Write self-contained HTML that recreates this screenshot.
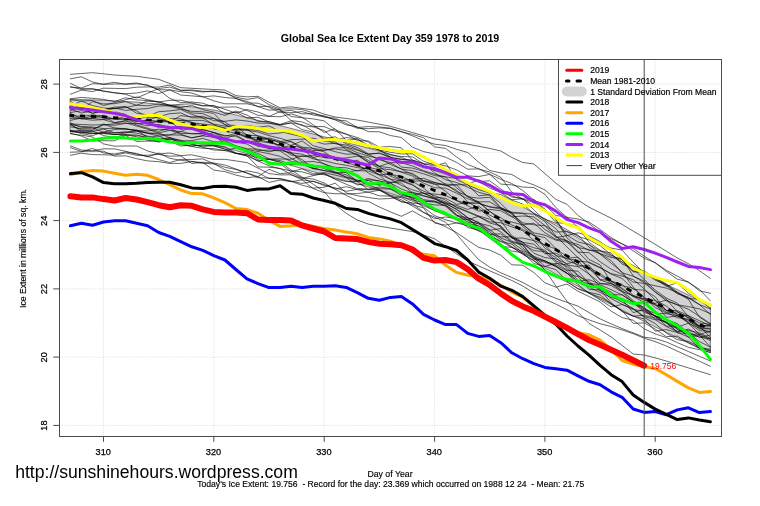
<!DOCTYPE html><html><head><meta charset="utf-8"><title>Global Sea Ice Extent</title><style>html,body{margin:0;padding:0;background:#fff}svg{display:block}</style></head><body><svg width="760" height="506" viewBox="0 0 760 506" font-family="Liberation Sans, Arial, sans-serif">
<rect width="760" height="506" fill="#fff"/>
<path d="M103.5 59.5 V436.5 M213.8 59.5 V436.5 M324.2 59.5 V436.5 M434.6 59.5 V436.5 M544.9 59.5 V436.5 M655.2 59.5 V436.5 M59.5 425.4 H721.5 M59.5 357.1 H721.5 M59.5 288.9 H721.5 M59.5 220.6 H721.5 M59.5 152.4 H721.5 M59.5 84.1 H721.5" stroke="#d4d4d4" stroke-width="0.85" stroke-dasharray="1 1.5" fill="none"/>
<g fill="none" stroke-linejoin="round" stroke-linecap="round">
<path d="M70.4 99.1 L81.4 99.5 L92.5 99.9 L103.5 100.3 L114.5 100.9 L125.6 101.5 L136.6 102.1 L147.6 103.1 L158.7 104.1 L169.7 105.0 L180.7 106.0 L191.8 106.9 L202.8 108.4 L213.8 110.0 L224.9 112.5 L235.9 115.0 L247.0 117.7 L258.0 120.3 L269.0 122.9 L280.1 125.6 L291.1 128.4 L302.1 131.2 L313.2 134.0 L324.2 136.8 L335.2 139.6 L346.3 142.5 L357.3 145.3 L368.3 148.1 L379.4 151.2 L390.4 154.2 L401.4 157.3 L412.5 161.7 L423.5 166.1 L434.6 170.5 L445.6 174.4 L456.6 178.4 L467.7 182.5 L478.7 187.2 L489.7 191.9 L500.8 196.6 L511.8 201.4 L522.8 206.9 L533.9 213.0 L544.9 219.0 L555.9 225.3 L567.0 231.6 L578.0 237.9 L589.0 244.4 L600.1 250.9 L611.1 256.5 L622.1 262.1 L633.2 267.8 L644.2 273.4 L655.2 278.9 L666.3 284.3 L677.3 289.7 L688.4 295.1 L699.4 300.4 L710.4 305.0 L710.4 353.0 L699.4 348.4 L688.4 343.1 L677.3 337.7 L666.3 332.3 L655.2 326.9 L644.2 321.4 L633.2 315.8 L622.1 310.1 L611.1 304.5 L600.1 298.9 L589.0 292.6 L578.0 286.3 L567.0 280.2 L555.9 274.1 L544.9 268.0 L533.9 261.0 L522.8 253.9 L511.8 247.4 L500.8 241.6 L489.7 235.9 L478.7 230.4 L467.7 224.9 L456.6 220.0 L445.6 215.2 L434.6 210.5 L423.5 205.9 L412.5 201.3 L401.4 196.7 L390.4 193.4 L379.4 190.2 L368.3 186.9 L357.3 183.9 L346.3 180.8 L335.2 177.8 L324.2 174.8 L313.2 171.7 L302.1 168.6 L291.1 165.5 L280.1 162.4 L269.0 159.4 L258.0 156.5 L247.0 153.6 L235.9 150.6 L224.9 147.8 L213.8 145.0 L202.8 143.3 L191.8 141.5 L180.7 140.4 L169.7 139.4 L158.7 138.2 L147.6 137.1 L136.6 135.9 L125.6 135.2 L114.5 134.4 L103.5 133.7 L92.5 133.1 L81.4 132.5 L70.4 131.9Z" fill="#d3d3d3" stroke="#333" stroke-width="0.6"/>
<g stroke="#000" stroke-width="0.6">
<path d="M70.4 74.3 L81.4 73.5 L92.5 72.7 L103.5 73.8 L114.5 75.0 L125.6 75.7 L136.6 76.3 L147.6 77.8 L158.7 79.3 L169.7 83.5 L180.7 87.7 L191.8 88.3 L202.8 88.9 L213.8 89.5 L224.9 90.0 L235.9 95.7 L247.0 96.9 L258.0 96.3 L269.0 102.1 L280.1 107.9 L291.1 106.8 L302.1 108.4 L313.2 110.0 L324.2 114.2 L335.2 117.0 L346.3 118.5 L357.3 120.0 L368.3 122.1 L379.4 124.2 L390.4 126.3 L401.4 129.4 L412.5 132.6 L423.5 135.8 L434.6 138.9 L445.6 140.7 L456.6 142.4 L467.7 144.2 L478.7 146.3 L489.7 148.4 L500.8 151.0 L511.8 157.5 L522.8 162.5 L533.9 164.0 L544.9 173.6 L555.9 183.1 L567.0 192.0 L578.0 200.1 L589.0 207.2 L600.1 212.7 L611.1 218.2 L622.1 224.4 L633.2 231.1 L644.2 237.7 L655.2 244.3 L666.3 251.2 L677.3 258.0 L688.4 263.7 L699.4 270.6 L710.4 278.5"/>
<path d="M70.4 131.0 L81.4 132.7 L92.5 133.4 L103.5 133.4 L114.5 134.4 L125.6 134.7 L136.6 136.8 L147.6 140.4 L158.7 140.8 L169.7 141.7 L180.7 144.4 L191.8 146.6 L202.8 148.3 L213.8 148.6 L224.9 150.6 L235.9 153.4 L247.0 154.8 L258.0 158.0 L269.0 159.3 L280.1 162.0 L291.1 170.0 L302.1 177.1 L313.2 184.2 L324.2 191.6 L335.2 204.5 L346.3 213.4 L357.3 220.0 L368.3 224.1 L379.4 226.2 L390.4 228.0 L401.4 229.8 L412.5 231.6 L423.5 235.0 L434.6 238.8 L445.6 246.3 L456.6 253.9 L467.7 261.0 L478.7 265.9 L489.7 270.8 L500.8 275.6 L511.8 280.5 L522.8 286.0 L533.9 293.1 L544.9 299.2 L555.9 304.1 L567.0 309.8 L578.0 315.8 L589.0 319.9 L600.1 323.7 L611.1 326.5 L622.1 329.9 L633.2 333.7 L644.2 338.2 L655.2 341.6 L666.3 346.0 L677.3 351.1 L688.4 356.2 L699.4 361.2 L710.4 366.3"/>
<path d="M70.4 124.6 L81.4 126.4 L92.5 127.0 L103.5 128.6 L114.5 128.2 L125.6 129.1 L136.6 130.5 L147.6 133.4 L158.7 136.1 L169.7 134.9 L180.7 135.1 L191.8 137.6 L202.8 135.9 L213.8 137.2 L224.9 140.7 L235.9 145.8 L247.0 149.5 L258.0 151.5 L269.0 153.7 L280.1 156.3 L291.1 161.3 L302.1 163.0 L313.2 165.2 L324.2 168.5 L335.2 172.7 L346.3 176.9 L357.3 180.0 L368.3 185.0 L379.4 189.2 L390.4 195.8 L401.4 199.8 L412.5 206.1 L423.5 212.6 L434.6 217.0 L445.6 222.2 L456.6 234.2 L467.7 247.3 L478.7 259.7 L489.7 267.1 L500.8 272.8 L511.8 277.5 L522.8 282.5 L533.9 288.6 L544.9 293.9 L555.9 298.3 L567.0 302.3 L578.0 306.2 L589.0 312.5 L600.1 318.9 L611.1 323.8 L622.1 328.6 L633.2 332.8 L644.2 337.2 L655.2 338.6 L666.3 342.0 L677.3 346.8 L688.4 351.5 L699.4 356.3 L710.4 361.0"/>
<path d="M70.4 123.9 L81.4 124.5 L92.5 125.0 L103.5 124.7 L114.5 125.3 L125.6 123.4 L136.6 123.5 L147.6 125.8 L158.7 124.3 L169.7 127.6 L180.7 126.6 L191.8 129.6 L202.8 129.7 L213.8 132.4 L224.9 135.5 L235.9 136.3 L247.0 141.5 L258.0 146.3 L269.0 148.4 L280.1 150.4 L291.1 152.8 L302.1 154.2 L313.2 158.9 L324.2 160.7 L335.2 163.5 L346.3 165.3 L357.3 167.6 L368.3 169.1 L379.4 174.5 L390.4 179.2 L401.4 185.4 L412.5 189.8 L423.5 193.3 L434.6 197.7 L445.6 201.9 L456.6 206.9 L467.7 211.4 L478.7 216.0 L489.7 219.2 L500.8 226.5 L511.8 237.4 L522.8 245.0 L533.9 257.5 L544.9 270.0 L555.9 286.0 L567.0 301.3 L578.0 312.3 L589.0 323.4 L600.1 330.0 L611.1 336.9 L622.1 345.5 L633.2 354.0 L644.2 355.0 L655.2 357.9 L666.3 361.0 L677.3 364.5 L688.4 367.9 L699.4 371.3 L710.4 374.7"/>
<path d="M70.4 78.8 L81.4 76.8 L92.5 82.0 L103.5 84.4 L114.5 84.0 L125.6 83.9 L136.6 83.0 L147.6 85.5 L158.7 89.8 L169.7 89.8 L180.7 91.7 L191.8 93.1 L202.8 96.8 L213.8 95.9 L224.9 97.5 L235.9 98.4 L247.0 102.9 L258.0 103.2 L269.0 107.2 L280.1 112.6 L291.1 112.7 L302.1 111.6 L313.2 115.0 L324.2 116.8 L335.2 119.7 L346.3 120.9 L357.3 127.5 L368.3 126.6 L379.4 127.0 L390.4 128.1 L401.4 131.9 L412.5 134.4 L423.5 137.7 L434.6 146.9 L445.6 148.4 L456.6 157.0 L467.7 164.5 L478.7 168.8 L489.7 174.3 L500.8 184.1 L511.8 184.9 L522.8 187.1 L533.9 187.5 L544.9 194.3 L555.9 207.6 L567.0 217.4 L578.0 219.0 L589.0 222.0 L600.1 229.5 L611.1 237.6 L622.1 243.9 L633.2 250.8 L644.2 258.3 L655.2 262.7 L666.3 270.3 L677.3 276.1 L688.4 282.4 L699.4 289.3 L710.4 300.9"/>
<path d="M70.4 83.3 L81.4 88.6 L92.5 89.2 L103.5 90.9 L114.5 92.7 L125.6 94.3 L136.6 98.0 L147.6 93.3 L158.7 88.5 L169.7 87.1 L180.7 90.3 L191.8 90.7 L202.8 92.0 L213.8 91.0 L224.9 92.9 L235.9 97.2 L247.0 99.4 L258.0 97.6 L269.0 104.7 L280.1 109.1 L291.1 108.8 L302.1 109.5 L313.2 112.9 L324.2 116.9 L335.2 118.2 L346.3 123.6 L357.3 128.3 L368.3 128.7 L379.4 127.9 L390.4 128.6 L401.4 131.4 L412.5 135.9 L423.5 140.5 L434.6 144.2 L445.6 145.5 L456.6 149.3 L467.7 152.5 L478.7 162.3 L489.7 170.5 L500.8 172.9 L511.8 174.5 L522.8 181.0 L533.9 184.9 L544.9 189.9 L555.9 199.4 L567.0 204.3 L578.0 215.4 L589.0 223.5 L600.1 232.3 L611.1 238.8 L622.1 243.9 L633.2 248.5 L644.2 256.2 L655.2 262.9 L666.3 271.4 L677.3 279.2 L688.4 281.9 L699.4 290.8 L710.4 293.3"/>
<path d="M70.4 87.1 L81.4 88.0 L92.5 83.7 L103.5 84.1 L114.5 82.3 L125.6 84.4 L136.6 83.8 L147.6 85.0 L158.7 89.8 L169.7 98.3 L180.7 102.7 L191.8 102.0 L202.8 103.2 L213.8 107.2 L224.9 107.2 L235.9 106.9 L247.0 110.5 L258.0 115.3 L269.0 116.4 L280.1 111.5 L291.1 110.3 L302.1 113.9 L313.2 113.6 L324.2 115.9 L335.2 119.9 L346.3 124.9 L357.3 126.8 L368.3 131.6 L379.4 131.8 L390.4 135.5 L401.4 137.5 L412.5 147.2 L423.5 151.6 L434.6 154.0 L445.6 157.2 L456.6 162.4 L467.7 169.2 L478.7 168.9 L489.7 172.0 L500.8 177.3 L511.8 192.1 L522.8 199.3 L533.9 202.2 L544.9 209.5 L555.9 222.6 L567.0 223.5 L578.0 226.4 L589.0 236.6 L600.1 242.8 L611.1 248.1 L622.1 250.1 L633.2 262.3 L644.2 273.1 L655.2 278.9 L666.3 286.3 L677.3 282.8 L688.4 293.4 L699.4 299.5 L710.4 308.6"/>
<path d="M70.4 94.2 L81.4 90.1 L92.5 91.6 L103.5 88.2 L114.5 88.4 L125.6 88.6 L136.6 87.2 L147.6 86.9 L158.7 87.1 L169.7 85.1 L180.7 90.3 L191.8 89.9 L202.8 91.3 L213.8 91.5 L224.9 92.2 L235.9 98.5 L247.0 101.4 L258.0 106.7 L269.0 110.1 L280.1 109.7 L291.1 116.5 L302.1 117.8 L313.2 118.9 L324.2 120.9 L335.2 129.8 L346.3 134.0 L357.3 140.6 L368.3 141.0 L379.4 147.2 L390.4 146.5 L401.4 147.8 L412.5 160.3 L423.5 164.0 L434.6 163.9 L445.6 165.9 L456.6 169.9 L467.7 175.9 L478.7 176.6 L489.7 174.4 L500.8 179.3 L511.8 183.5 L522.8 190.5 L533.9 200.1 L544.9 205.1 L555.9 215.5 L567.0 217.0 L578.0 227.5 L589.0 242.3 L600.1 250.3 L611.1 255.3 L622.1 259.9 L633.2 271.9 L644.2 272.4 L655.2 277.2 L666.3 285.5 L677.3 293.8 L688.4 297.2 L699.4 304.6 L710.4 309.0"/>
<path d="M70.4 86.7 L81.4 89.4 L92.5 88.6 L103.5 91.3 L114.5 92.9 L125.6 93.7 L136.6 93.0 L147.6 90.9 L158.7 93.5 L169.7 89.9 L180.7 95.0 L191.8 95.9 L202.8 96.8 L213.8 100.8 L224.9 103.8 L235.9 103.8 L247.0 103.8 L258.0 106.4 L269.0 106.4 L280.1 110.2 L291.1 120.6 L302.1 121.9 L313.2 126.5 L324.2 126.6 L335.2 131.3 L346.3 134.2 L357.3 137.5 L368.3 142.0 L379.4 150.0 L390.4 152.3 L401.4 154.0 L412.5 153.9 L423.5 161.2 L434.6 164.9 L445.6 170.0 L456.6 173.9 L467.7 184.1 L478.7 179.9 L489.7 184.3 L500.8 192.7 L511.8 195.9 L522.8 199.2 L533.9 205.4 L544.9 209.4 L555.9 219.7 L567.0 237.8 L578.0 247.6 L589.0 249.6 L600.1 253.7 L611.1 260.5 L622.1 272.8 L633.2 276.3 L644.2 281.1 L655.2 291.8 L666.3 300.9 L677.3 304.7 L688.4 306.6 L699.4 308.9 L710.4 313.7"/>
<path d="M70.4 98.9 L81.4 97.4 L92.5 98.3 L103.5 99.4 L114.5 101.5 L125.6 97.8 L136.6 99.9 L147.6 100.6 L158.7 102.1 L169.7 105.2 L180.7 107.8 L191.8 112.9 L202.8 113.6 L213.8 118.4 L224.9 124.7 L235.9 130.3 L247.0 135.1 L258.0 135.7 L269.0 138.8 L280.1 143.0 L291.1 141.6 L302.1 147.1 L313.2 148.4 L324.2 150.0 L335.2 149.0 L346.3 150.6 L357.3 155.2 L368.3 162.3 L379.4 168.5 L390.4 169.7 L401.4 171.9 L412.5 173.4 L423.5 180.6 L434.6 183.6 L445.6 191.3 L456.6 200.6 L467.7 203.5 L478.7 203.4 L489.7 206.9 L500.8 209.2 L511.8 213.1 L522.8 226.8 L533.9 235.4 L544.9 237.5 L555.9 248.6 L567.0 260.7 L578.0 264.6 L589.0 269.0 L600.1 275.4 L611.1 282.8 L622.1 290.8 L633.2 300.6 L644.2 308.5 L655.2 316.5 L666.3 322.5 L677.3 327.1 L688.4 323.3 L699.4 328.1 L710.4 333.1"/>
<path d="M70.4 99.8 L81.4 101.1 L92.5 100.5 L103.5 105.5 L114.5 102.6 L125.6 99.8 L136.6 96.9 L147.6 99.7 L158.7 101.9 L169.7 100.4 L180.7 100.2 L191.8 102.9 L202.8 105.7 L213.8 105.6 L224.9 109.3 L235.9 113.1 L247.0 109.6 L258.0 112.0 L269.0 116.4 L280.1 116.8 L291.1 113.9 L302.1 117.2 L313.2 124.8 L324.2 132.4 L335.2 128.8 L346.3 140.3 L357.3 139.0 L368.3 145.0 L379.4 150.3 L390.4 154.9 L401.4 156.5 L412.5 156.9 L423.5 163.8 L434.6 166.0 L445.6 162.8 L456.6 179.6 L467.7 184.6 L478.7 195.8 L489.7 194.7 L500.8 203.4 L511.8 214.5 L522.8 222.8 L533.9 224.8 L544.9 225.7 L555.9 232.0 L567.0 231.6 L578.0 235.0 L589.0 247.2 L600.1 254.1 L611.1 263.1 L622.1 272.1 L633.2 286.9 L644.2 297.9 L655.2 300.6 L666.3 310.3 L677.3 310.7 L688.4 315.5 L699.4 326.1 L710.4 325.3"/>
<path d="M70.4 101.0 L81.4 109.8 L92.5 101.6 L103.5 103.9 L114.5 103.7 L125.6 101.6 L136.6 105.3 L147.6 101.0 L158.7 101.8 L169.7 105.3 L180.7 104.3 L191.8 103.8 L202.8 105.9 L213.8 105.8 L224.9 113.8 L235.9 112.2 L247.0 117.9 L258.0 117.3 L269.0 121.9 L280.1 124.4 L291.1 120.8 L302.1 125.7 L313.2 126.9 L324.2 130.5 L335.2 139.8 L346.3 137.6 L357.3 138.6 L368.3 147.1 L379.4 150.0 L390.4 157.3 L401.4 159.4 L412.5 160.0 L423.5 163.4 L434.6 173.0 L445.6 179.7 L456.6 182.5 L467.7 187.1 L478.7 192.3 L489.7 195.2 L500.8 207.7 L511.8 212.1 L522.8 213.3 L533.9 219.8 L544.9 229.4 L555.9 236.6 L567.0 241.1 L578.0 244.5 L589.0 250.4 L600.1 250.8 L611.1 252.9 L622.1 264.1 L633.2 268.8 L644.2 279.5 L655.2 290.1 L666.3 298.0 L677.3 303.2 L688.4 316.8 L699.4 322.9 L710.4 324.3"/>
<path d="M70.4 103.7 L81.4 107.1 L92.5 108.9 L103.5 109.9 L114.5 108.1 L125.6 110.4 L136.6 109.3 L147.6 108.5 L158.7 106.0 L169.7 105.7 L180.7 107.5 L191.8 105.4 L202.8 109.7 L213.8 112.1 L224.9 115.4 L235.9 111.1 L247.0 115.0 L258.0 121.4 L269.0 121.5 L280.1 124.9 L291.1 123.0 L302.1 129.6 L313.2 132.1 L324.2 138.7 L335.2 136.8 L346.3 143.9 L357.3 147.4 L368.3 153.8 L379.4 153.2 L390.4 156.8 L401.4 167.1 L412.5 168.1 L423.5 171.4 L434.6 175.6 L445.6 177.0 L456.6 187.8 L467.7 196.7 L478.7 198.2 L489.7 197.2 L500.8 208.3 L511.8 216.4 L522.8 224.7 L533.9 232.9 L544.9 235.2 L555.9 240.2 L567.0 242.2 L578.0 246.6 L589.0 259.5 L600.1 264.9 L611.1 281.6 L622.1 285.7 L633.2 288.2 L644.2 297.3 L655.2 307.6 L666.3 313.1 L677.3 311.9 L688.4 317.8 L699.4 327.7 L710.4 329.0"/>
<path d="M70.4 106.4 L81.4 100.9 L92.5 105.6 L103.5 108.1 L114.5 108.6 L125.6 106.4 L136.6 113.2 L147.6 114.8 L158.7 118.4 L169.7 122.5 L180.7 120.4 L191.8 122.7 L202.8 124.0 L213.8 125.3 L224.9 127.8 L235.9 131.4 L247.0 137.8 L258.0 139.6 L269.0 142.0 L280.1 145.2 L291.1 149.7 L302.1 149.7 L313.2 151.7 L324.2 155.7 L335.2 157.8 L346.3 161.0 L357.3 163.6 L368.3 173.0 L379.4 178.9 L390.4 182.3 L401.4 183.0 L412.5 193.1 L423.5 196.0 L434.6 199.1 L445.6 203.7 L456.6 209.0 L467.7 217.7 L478.7 222.8 L489.7 234.2 L500.8 233.9 L511.8 242.2 L522.8 244.9 L533.9 259.3 L544.9 262.4 L555.9 266.1 L567.0 273.1 L578.0 281.4 L589.0 279.7 L600.1 283.9 L611.1 283.7 L622.1 291.5 L633.2 295.7 L644.2 300.0 L655.2 304.5 L666.3 310.3 L677.3 313.8 L688.4 323.0 L699.4 334.5 L710.4 331.1"/>
<path d="M70.4 109.0 L81.4 113.0 L92.5 110.7 L103.5 109.9 L114.5 108.6 L125.6 107.6 L136.6 105.2 L147.6 105.8 L158.7 104.0 L169.7 106.2 L180.7 109.0 L191.8 111.3 L202.8 111.8 L213.8 113.4 L224.9 124.7 L235.9 125.6 L247.0 135.4 L258.0 141.2 L269.0 142.9 L280.1 145.0 L291.1 152.5 L302.1 162.1 L313.2 161.5 L324.2 163.6 L335.2 169.3 L346.3 172.8 L357.3 181.1 L368.3 180.5 L379.4 185.1 L390.4 182.8 L401.4 193.7 L412.5 194.8 L423.5 192.8 L434.6 198.6 L445.6 204.3 L456.6 215.3 L467.7 217.8 L478.7 222.4 L489.7 229.7 L500.8 238.0 L511.8 242.3 L522.8 250.0 L533.9 256.3 L544.9 260.7 L555.9 266.6 L567.0 273.6 L578.0 276.7 L589.0 289.4 L600.1 289.9 L611.1 302.8 L622.1 311.6 L633.2 316.1 L644.2 315.4 L655.2 317.9 L666.3 323.0 L677.3 328.6 L688.4 331.8 L699.4 337.2 L710.4 335.0"/>
<path d="M70.4 110.7 L81.4 106.8 L92.5 113.6 L103.5 109.7 L114.5 107.1 L125.6 106.9 L136.6 110.9 L147.6 117.5 L158.7 116.7 L169.7 113.7 L180.7 112.9 L191.8 117.8 L202.8 117.9 L213.8 124.7 L224.9 131.2 L235.9 133.1 L247.0 136.3 L258.0 142.4 L269.0 148.3 L280.1 147.9 L291.1 155.0 L302.1 156.4 L313.2 155.2 L324.2 157.6 L335.2 158.8 L346.3 157.9 L357.3 156.1 L368.3 157.3 L379.4 166.7 L390.4 174.1 L401.4 176.7 L412.5 181.2 L423.5 180.8 L434.6 182.5 L445.6 185.8 L456.6 184.7 L467.7 184.9 L478.7 189.7 L489.7 192.9 L500.8 194.5 L511.8 200.1 L522.8 204.1 L533.9 213.7 L544.9 218.9 L555.9 223.4 L567.0 229.8 L578.0 236.4 L589.0 239.8 L600.1 245.7 L611.1 254.7 L622.1 261.9 L633.2 271.2 L644.2 271.1 L655.2 277.5 L666.3 283.8 L677.3 292.2 L688.4 298.0 L699.4 304.6 L710.4 314.4"/>
<path d="M70.4 112.5 L81.4 110.7 L92.5 112.9 L103.5 112.0 L114.5 111.6 L125.6 114.5 L136.6 121.8 L147.6 119.9 L158.7 121.4 L169.7 122.1 L180.7 115.6 L191.8 116.8 L202.8 116.3 L213.8 120.7 L224.9 121.3 L235.9 119.9 L247.0 121.0 L258.0 123.1 L269.0 123.2 L280.1 124.9 L291.1 122.8 L302.1 124.7 L313.2 131.3 L324.2 139.8 L335.2 143.6 L346.3 145.1 L357.3 149.3 L368.3 154.5 L379.4 159.8 L390.4 162.6 L401.4 162.8 L412.5 165.9 L423.5 170.7 L434.6 174.2 L445.6 176.9 L456.6 178.4 L467.7 175.8 L478.7 181.6 L489.7 180.8 L500.8 188.9 L511.8 197.1 L522.8 198.4 L533.9 209.9 L544.9 220.4 L555.9 228.7 L567.0 242.0 L578.0 252.2 L589.0 252.7 L600.1 261.8 L611.1 269.1 L622.1 274.4 L633.2 282.1 L644.2 283.4 L655.2 285.8 L666.3 288.1 L677.3 292.4 L688.4 298.5 L699.4 299.3 L710.4 304.2"/>
<path d="M70.4 113.3 L81.4 118.9 L92.5 115.8 L103.5 117.9 L114.5 118.7 L125.6 118.1 L136.6 121.1 L147.6 122.9 L158.7 120.8 L169.7 121.4 L180.7 129.6 L191.8 125.1 L202.8 126.6 L213.8 128.8 L224.9 130.4 L235.9 128.1 L247.0 129.5 L258.0 130.4 L269.0 134.0 L280.1 133.0 L291.1 131.1 L302.1 135.9 L313.2 140.7 L324.2 144.1 L335.2 143.3 L346.3 147.1 L357.3 150.1 L368.3 154.4 L379.4 153.1 L390.4 157.7 L401.4 159.3 L412.5 160.5 L423.5 166.0 L434.6 170.4 L445.6 172.5 L456.6 177.7 L467.7 176.4 L478.7 181.6 L489.7 188.0 L500.8 192.6 L511.8 199.7 L522.8 198.8 L533.9 199.5 L544.9 209.3 L555.9 219.9 L567.0 235.2 L578.0 242.0 L589.0 244.5 L600.1 253.6 L611.1 257.5 L622.1 258.6 L633.2 275.9 L644.2 282.8 L655.2 292.2 L666.3 299.2 L677.3 311.9 L688.4 317.8 L699.4 327.0 L710.4 326.8"/>
<path d="M70.4 115.2 L81.4 116.5 L92.5 114.9 L103.5 116.1 L114.5 122.6 L125.6 120.7 L136.6 125.0 L147.6 128.2 L158.7 131.4 L169.7 128.0 L180.7 133.6 L191.8 133.6 L202.8 133.5 L213.8 134.8 L224.9 138.6 L235.9 141.9 L247.0 144.0 L258.0 150.6 L269.0 150.1 L280.1 150.9 L291.1 158.3 L302.1 164.0 L313.2 168.5 L324.2 166.8 L335.2 172.0 L346.3 174.9 L357.3 181.3 L368.3 178.5 L379.4 181.3 L390.4 182.5 L401.4 180.6 L412.5 184.4 L423.5 193.5 L434.6 194.0 L445.6 195.5 L456.6 200.7 L467.7 205.8 L478.7 211.2 L489.7 209.3 L500.8 210.8 L511.8 216.9 L522.8 216.0 L533.9 216.9 L544.9 225.5 L555.9 237.6 L567.0 235.6 L578.0 232.8 L589.0 235.8 L600.1 241.6 L611.1 250.0 L622.1 259.9 L633.2 265.5 L644.2 271.7 L655.2 280.2 L666.3 284.9 L677.3 292.9 L688.4 299.3 L699.4 317.2 L710.4 324.0"/>
<path d="M70.4 116.7 L81.4 118.8 L92.5 120.2 L103.5 119.6 L114.5 122.9 L125.6 120.8 L136.6 121.1 L147.6 120.2 L158.7 116.5 L169.7 121.8 L180.7 120.4 L191.8 120.4 L202.8 120.4 L213.8 124.1 L224.9 126.2 L235.9 127.7 L247.0 125.3 L258.0 127.3 L269.0 125.9 L280.1 131.3 L291.1 134.2 L302.1 136.7 L313.2 145.8 L324.2 148.5 L335.2 151.7 L346.3 154.2 L357.3 153.9 L368.3 160.5 L379.4 166.2 L390.4 162.8 L401.4 169.1 L412.5 174.5 L423.5 181.2 L434.6 184.4 L445.6 184.1 L456.6 184.9 L467.7 196.9 L478.7 201.8 L489.7 201.8 L500.8 208.6 L511.8 213.2 L522.8 213.3 L533.9 214.2 L544.9 221.5 L555.9 236.0 L567.0 247.0 L578.0 257.7 L589.0 268.4 L600.1 279.5 L611.1 280.7 L622.1 289.1 L633.2 296.5 L644.2 299.2 L655.2 305.2 L666.3 312.2 L677.3 317.7 L688.4 319.1 L699.4 325.7 L710.4 337.6"/>
<path d="M70.4 118.5 L81.4 118.2 L92.5 118.5 L103.5 119.5 L114.5 118.6 L125.6 117.4 L136.6 123.6 L147.6 123.1 L158.7 121.7 L169.7 118.5 L180.7 118.9 L191.8 122.2 L202.8 126.4 L213.8 126.3 L224.9 128.6 L235.9 129.7 L247.0 129.3 L258.0 136.4 L269.0 139.5 L280.1 147.4 L291.1 145.8 L302.1 147.7 L313.2 150.5 L324.2 150.6 L335.2 147.9 L346.3 147.8 L357.3 152.6 L368.3 156.0 L379.4 158.4 L390.4 164.4 L401.4 169.0 L412.5 170.7 L423.5 173.8 L434.6 177.6 L445.6 184.2 L456.6 191.6 L467.7 195.9 L478.7 203.2 L489.7 206.8 L500.8 207.9 L511.8 212.6 L522.8 224.4 L533.9 234.2 L544.9 248.2 L555.9 255.1 L567.0 264.4 L578.0 275.1 L589.0 283.8 L600.1 286.9 L611.1 292.2 L622.1 300.0 L633.2 303.5 L644.2 310.1 L655.2 319.3 L666.3 321.5 L677.3 332.8 L688.4 333.6 L699.4 337.1 L710.4 338.8"/>
<path d="M70.4 120.4 L81.4 118.0 L92.5 118.4 L103.5 115.2 L114.5 119.5 L125.6 119.4 L136.6 119.2 L147.6 116.6 L158.7 111.7 L169.7 110.9 L180.7 109.5 L191.8 114.4 L202.8 117.9 L213.8 118.5 L224.9 121.9 L235.9 129.8 L247.0 130.4 L258.0 132.0 L269.0 135.7 L280.1 138.3 L291.1 141.7 L302.1 149.0 L313.2 157.8 L324.2 153.9 L335.2 158.3 L346.3 162.1 L357.3 166.2 L368.3 169.1 L379.4 172.0 L390.4 179.1 L401.4 181.0 L412.5 185.2 L423.5 191.1 L434.6 195.6 L445.6 200.1 L456.6 207.7 L467.7 212.0 L478.7 216.8 L489.7 221.8 L500.8 222.8 L511.8 226.9 L522.8 230.7 L533.9 240.5 L544.9 245.1 L555.9 248.9 L567.0 256.5 L578.0 266.2 L589.0 265.1 L600.1 280.1 L611.1 283.5 L622.1 288.1 L633.2 296.5 L644.2 302.3 L655.2 303.5 L666.3 317.3 L677.3 316.1 L688.4 320.1 L699.4 328.9 L710.4 328.9"/>
<path d="M70.4 122.9 L81.4 127.4 L92.5 127.7 L103.5 132.3 L114.5 134.7 L125.6 132.9 L136.6 130.0 L147.6 133.0 L158.7 134.2 L169.7 135.1 L180.7 131.6 L191.8 127.1 L202.8 129.5 L213.8 132.6 L224.9 136.3 L235.9 133.4 L247.0 137.6 L258.0 137.3 L269.0 139.8 L280.1 141.7 L291.1 139.7 L302.1 139.2 L313.2 138.1 L324.2 141.4 L335.2 141.8 L346.3 149.5 L357.3 154.7 L368.3 162.3 L379.4 166.5 L390.4 167.8 L401.4 172.2 L412.5 176.0 L423.5 183.2 L434.6 187.7 L445.6 188.2 L456.6 193.2 L467.7 198.7 L478.7 202.4 L489.7 211.2 L500.8 220.6 L511.8 222.0 L522.8 225.0 L533.9 223.2 L544.9 232.8 L555.9 239.4 L567.0 240.3 L578.0 251.9 L589.0 262.8 L600.1 267.8 L611.1 274.1 L622.1 278.5 L633.2 289.3 L644.2 290.2 L655.2 296.7 L666.3 310.7 L677.3 315.5 L688.4 321.6 L699.4 326.3 L710.4 325.1"/>
<path d="M70.4 124.9 L81.4 129.8 L92.5 130.3 L103.5 123.9 L114.5 128.0 L125.6 128.7 L136.6 130.6 L147.6 131.0 L158.7 129.2 L169.7 129.9 L180.7 134.3 L191.8 138.0 L202.8 135.5 L213.8 132.7 L224.9 138.3 L235.9 135.0 L247.0 141.5 L258.0 141.1 L269.0 137.9 L280.1 141.2 L291.1 145.4 L302.1 140.9 L313.2 148.9 L324.2 151.9 L335.2 159.2 L346.3 161.9 L357.3 160.3 L368.3 168.1 L379.4 174.9 L390.4 185.6 L401.4 193.8 L412.5 198.0 L423.5 201.1 L434.6 201.6 L445.6 203.2 L456.6 205.4 L467.7 209.4 L478.7 206.0 L489.7 215.0 L500.8 220.9 L511.8 235.7 L522.8 242.3 L533.9 244.2 L544.9 253.7 L555.9 253.0 L567.0 259.0 L578.0 260.2 L589.0 274.0 L600.1 283.2 L611.1 285.5 L622.1 292.0 L633.2 302.6 L644.2 309.0 L655.2 313.4 L666.3 313.7 L677.3 315.7 L688.4 322.7 L699.4 330.7 L710.4 331.3"/>
<path d="M70.4 126.9 L81.4 128.6 L92.5 128.9 L103.5 125.0 L114.5 123.8 L125.6 122.8 L136.6 126.0 L147.6 129.2 L158.7 133.0 L169.7 130.3 L180.7 131.6 L191.8 133.8 L202.8 133.9 L213.8 136.0 L224.9 143.3 L235.9 145.9 L247.0 148.8 L258.0 149.2 L269.0 151.8 L280.1 149.4 L291.1 153.4 L302.1 159.8 L313.2 168.0 L324.2 170.6 L335.2 173.3 L346.3 171.9 L357.3 170.6 L368.3 171.0 L379.4 175.0 L390.4 173.9 L401.4 179.9 L412.5 179.3 L423.5 178.3 L434.6 182.4 L445.6 185.0 L456.6 190.1 L467.7 201.9 L478.7 208.4 L489.7 217.4 L500.8 227.6 L511.8 237.8 L522.8 242.1 L533.9 253.3 L544.9 257.6 L555.9 258.8 L567.0 263.8 L578.0 261.0 L589.0 262.2 L600.1 267.4 L611.1 273.6 L622.1 276.0 L633.2 279.6 L644.2 288.8 L655.2 300.2 L666.3 306.0 L677.3 314.5 L688.4 315.7 L699.4 320.7 L710.4 325.6"/>
<path d="M70.4 130.2 L81.4 133.6 L92.5 135.6 L103.5 132.1 L114.5 132.9 L125.6 132.0 L136.6 133.1 L147.6 136.1 L158.7 139.7 L169.7 137.4 L180.7 141.5 L191.8 140.6 L202.8 138.4 L213.8 141.8 L224.9 142.0 L235.9 146.2 L247.0 150.5 L258.0 153.4 L269.0 158.9 L280.1 160.6 L291.1 164.7 L302.1 163.7 L313.2 168.8 L324.2 170.5 L335.2 172.3 L346.3 177.3 L357.3 181.4 L368.3 179.8 L379.4 180.7 L390.4 186.0 L401.4 193.2 L412.5 198.8 L423.5 207.3 L434.6 215.6 L445.6 219.7 L456.6 222.9 L467.7 223.4 L478.7 225.8 L489.7 231.7 L500.8 239.6 L511.8 246.9 L522.8 254.5 L533.9 260.5 L544.9 269.9 L555.9 276.7 L567.0 282.0 L578.0 288.6 L589.0 292.3 L600.1 294.8 L611.1 304.0 L622.1 311.0 L633.2 316.3 L644.2 318.9 L655.2 331.1 L666.3 329.6 L677.3 332.4 L688.4 337.0 L699.4 335.5 L710.4 340.6"/>
<path d="M70.4 130.9 L81.4 130.6 L92.5 131.0 L103.5 135.6 L114.5 137.4 L125.6 134.6 L136.6 135.1 L147.6 137.6 L158.7 142.2 L169.7 139.1 L180.7 142.0 L191.8 143.8 L202.8 147.3 L213.8 150.0 L224.9 150.6 L235.9 148.0 L247.0 151.8 L258.0 159.8 L269.0 161.9 L280.1 163.7 L291.1 171.8 L302.1 168.8 L313.2 173.9 L324.2 172.6 L335.2 175.1 L346.3 177.8 L357.3 185.0 L368.3 183.2 L379.4 184.9 L390.4 183.0 L401.4 189.0 L412.5 193.0 L423.5 199.7 L434.6 201.0 L445.6 206.3 L456.6 215.9 L467.7 219.2 L478.7 226.9 L489.7 234.1 L500.8 236.8 L511.8 236.8 L522.8 248.2 L533.9 256.4 L544.9 266.4 L555.9 263.4 L567.0 264.9 L578.0 266.7 L589.0 274.0 L600.1 286.9 L611.1 296.4 L622.1 302.0 L633.2 308.4 L644.2 316.5 L655.2 319.8 L666.3 326.6 L677.3 331.4 L688.4 329.1 L699.4 335.1 L710.4 346.9"/>
<path d="M70.4 131.4 L81.4 131.9 L92.5 133.7 L103.5 132.3 L114.5 129.4 L125.6 129.0 L136.6 130.3 L147.6 137.3 L158.7 135.9 L169.7 140.8 L180.7 146.0 L191.8 145.0 L202.8 146.2 L213.8 146.0 L224.9 149.1 L235.9 153.3 L247.0 156.1 L258.0 160.9 L269.0 165.8 L280.1 168.7 L291.1 170.9 L302.1 171.9 L313.2 175.0 L324.2 174.0 L335.2 178.8 L346.3 181.6 L357.3 181.4 L368.3 189.7 L379.4 188.8 L390.4 189.1 L401.4 193.4 L412.5 192.1 L423.5 195.6 L434.6 198.6 L445.6 203.2 L456.6 209.7 L467.7 217.5 L478.7 228.9 L489.7 235.6 L500.8 244.9 L511.8 251.0 L522.8 252.8 L533.9 263.5 L544.9 266.4 L555.9 269.6 L567.0 281.2 L578.0 288.9 L589.0 293.1 L600.1 299.9 L611.1 306.9 L622.1 304.5 L633.2 309.6 L644.2 311.0 L655.2 316.0 L666.3 318.9 L677.3 329.5 L688.4 334.4 L699.4 334.2 L710.4 339.1"/>
<path d="M70.4 133.2 L81.4 136.0 L92.5 141.0 L103.5 140.7 L114.5 140.8 L125.6 135.4 L136.6 141.4 L147.6 141.1 L158.7 141.5 L169.7 138.2 L180.7 143.0 L191.8 146.3 L202.8 144.6 L213.8 145.7 L224.9 149.1 L235.9 153.4 L247.0 154.7 L258.0 161.1 L269.0 159.2 L280.1 158.9 L291.1 159.3 L302.1 155.9 L313.2 157.2 L324.2 164.3 L335.2 167.3 L346.3 167.8 L357.3 170.9 L368.3 167.4 L379.4 169.7 L390.4 176.2 L401.4 180.5 L412.5 181.3 L423.5 188.1 L434.6 197.2 L445.6 198.3 L456.6 204.3 L467.7 202.6 L478.7 201.8 L489.7 211.6 L500.8 217.8 L511.8 225.0 L522.8 229.5 L533.9 235.5 L544.9 245.7 L555.9 255.5 L567.0 258.3 L578.0 257.1 L589.0 267.5 L600.1 273.8 L611.1 281.0 L622.1 284.4 L633.2 295.4 L644.2 298.9 L655.2 303.3 L666.3 300.1 L677.3 305.0 L688.4 309.2 L699.4 316.2 L710.4 323.7"/>
<path d="M70.4 133.8 L81.4 135.2 L92.5 137.0 L103.5 143.9 L114.5 146.2 L125.6 146.0 L136.6 146.0 L147.6 151.0 L158.7 154.0 L169.7 153.0 L180.7 155.6 L191.8 154.8 L202.8 157.2 L213.8 159.4 L224.9 159.3 L235.9 160.9 L247.0 162.6 L258.0 168.1 L269.0 173.6 L280.1 174.9 L291.1 174.8 L302.1 178.5 L313.2 175.6 L324.2 173.3 L335.2 179.4 L346.3 184.3 L357.3 188.7 L368.3 189.0 L379.4 187.0 L390.4 188.6 L401.4 195.5 L412.5 197.2 L423.5 201.1 L434.6 202.1 L445.6 205.5 L456.6 214.8 L467.7 222.1 L478.7 223.3 L489.7 225.8 L500.8 231.9 L511.8 241.1 L522.8 244.5 L533.9 250.6 L544.9 251.6 L555.9 257.4 L567.0 268.3 L578.0 280.4 L589.0 284.0 L600.1 288.9 L611.1 298.6 L622.1 304.3 L633.2 308.8 L644.2 317.4 L655.2 323.7 L666.3 333.1 L677.3 339.7 L688.4 341.4 L699.4 346.4 L710.4 350.5"/>
<path d="M70.4 123.7 L81.4 131.8 L92.5 131.4 L103.5 129.1 L114.5 132.8 L125.6 132.1 L136.6 131.4 L147.6 133.1 L158.7 133.1 L169.7 137.8 L180.7 140.3 L191.8 144.6 L202.8 145.9 L213.8 145.1 L224.9 146.8 L235.9 153.0 L247.0 155.8 L258.0 166.9 L269.0 167.2 L280.1 168.4 L291.1 174.6 L302.1 179.8 L313.2 181.4 L324.2 184.5 L335.2 189.2 L346.3 195.5 L357.3 200.6 L368.3 201.4 L379.4 207.0 L390.4 211.9 L401.4 216.3 L412.5 210.9 L423.5 217.2 L434.6 221.9 L445.6 226.8 L456.6 232.6 L467.7 240.2 L478.7 247.4 L489.7 250.1 L500.8 255.2 L511.8 264.8 L522.8 265.2 L533.9 272.6 L544.9 282.8 L555.9 287.2 L567.0 284.0 L578.0 291.3 L589.0 296.5 L600.1 302.0 L611.1 311.1 L622.1 317.6 L633.2 320.2 L644.2 328.9 L655.2 333.9 L666.3 337.5 L677.3 342.6 L688.4 347.3 L699.4 349.7 L710.4 352.3"/>
<path d="M70.4 145.9 L81.4 150.0 L92.5 150.8 L103.5 148.8 L114.5 148.9 L125.6 151.3 L136.6 154.2 L147.6 156.4 L158.7 159.6 L169.7 162.6 L180.7 159.4 L191.8 159.5 L202.8 158.9 L213.8 163.7 L224.9 169.7 L235.9 172.9 L247.0 170.8 L258.0 172.9 L269.0 178.5 L280.1 178.5 L291.1 181.0 L302.1 183.5 L313.2 181.2 L324.2 185.5 L335.2 187.8 L346.3 191.3 L357.3 189.3 L368.3 189.6 L379.4 190.0 L390.4 195.0 L401.4 197.8 L412.5 203.6 L423.5 212.2 L434.6 218.7 L445.6 217.0 L456.6 218.7 L467.7 227.5 L478.7 230.0 L489.7 238.3 L500.8 246.4 L511.8 247.4 L522.8 251.5 L533.9 257.9 L544.9 261.5 L555.9 264.7 L567.0 270.8 L578.0 282.2 L589.0 287.2 L600.1 292.5 L611.1 297.5 L622.1 299.5 L633.2 312.6 L644.2 309.5 L655.2 315.9 L666.3 325.9 L677.3 327.4 L688.4 336.9 L699.4 348.5 L710.4 349.1"/>
<path d="M70.4 147.7 L81.4 151.4 L92.5 151.2 L103.5 151.2 L114.5 156.1 L125.6 155.8 L136.6 158.7 L147.6 160.9 L158.7 161.7 L169.7 163.4 L180.7 163.4 L191.8 161.6 L202.8 163.4 L213.8 163.8 L224.9 167.3 L235.9 169.5 L247.0 173.0 L258.0 176.6 L269.0 169.3 L280.1 173.7 L291.1 172.7 L302.1 177.9 L313.2 179.0 L324.2 183.0 L335.2 189.1 L346.3 186.7 L357.3 189.6 L368.3 192.2 L379.4 190.2 L390.4 196.4 L401.4 201.3 L412.5 204.8 L423.5 207.9 L434.6 223.1 L445.6 225.1 L456.6 222.9 L467.7 225.8 L478.7 231.1 L489.7 235.1 L500.8 241.5 L511.8 244.0 L522.8 253.1 L533.9 258.3 L544.9 260.9 L555.9 266.2 L567.0 272.9 L578.0 284.6 L589.0 293.4 L600.1 297.3 L611.1 303.3 L622.1 310.7 L633.2 323.3 L644.2 322.9 L655.2 329.1 L666.3 336.6 L677.3 336.2 L688.4 342.6 L699.4 348.1 L710.4 351.0"/>
<path d="M70.4 152.2 L81.4 151.8 L92.5 148.4 L103.5 153.0 L114.5 154.0 L125.6 151.9 L136.6 153.5 L147.6 156.9 L158.7 153.1 L169.7 158.3 L180.7 160.3 L191.8 161.4 L202.8 162.6 L213.8 170.1 L224.9 171.6 L235.9 175.1 L247.0 177.6 L258.0 176.6 L269.0 182.4 L280.1 180.0 L291.1 181.7 L302.1 179.9 L313.2 188.6 L324.2 192.7 L335.2 193.7 L346.3 193.9 L357.3 193.6 L368.3 192.1 L379.4 195.8 L390.4 196.1 L401.4 202.0 L412.5 203.1 L423.5 204.0 L434.6 210.8 L445.6 213.8 L456.6 218.6 L467.7 219.6 L478.7 216.3 L489.7 223.0 L500.8 225.9 L511.8 238.2 L522.8 238.0 L533.9 240.7 L544.9 252.4 L555.9 262.3 L567.0 270.2 L578.0 271.2 L589.0 283.2 L600.1 284.8 L611.1 289.7 L622.1 294.9 L633.2 302.1 L644.2 312.4 L655.2 315.6 L666.3 322.8 L677.3 331.7 L688.4 330.3 L699.4 332.8 L710.4 338.5"/>
<path d="M70.4 155.3 L81.4 153.2 L92.5 154.6 L103.5 154.8 L114.5 155.1 L125.6 152.9 L136.6 155.3 L147.6 155.2 L158.7 154.4 L169.7 156.2 L180.7 155.9 L191.8 163.5 L202.8 162.3 L213.8 163.0 L224.9 165.0 L235.9 169.0 L247.0 173.1 L258.0 177.8 L269.0 178.0 L280.1 178.9 L291.1 181.4 L302.1 185.2 L313.2 188.1 L324.2 187.2 L335.2 183.1 L346.3 193.0 L357.3 195.7 L368.3 197.5 L379.4 199.0 L390.4 198.5 L401.4 196.7 L412.5 199.8 L423.5 202.7 L434.6 204.9 L445.6 205.4 L456.6 211.7 L467.7 220.4 L478.7 224.0 L489.7 230.2 L500.8 228.6 L511.8 236.7 L522.8 243.5 L533.9 247.8 L544.9 250.2 L555.9 260.8 L567.0 266.5 L578.0 275.9 L589.0 281.4 L600.1 290.8 L611.1 294.7 L622.1 294.8 L633.2 302.2 L644.2 307.4 L655.2 316.4 L666.3 319.7 L677.3 323.6 L688.4 332.8 L699.4 341.6 L710.4 347.1"/>
</g>
<path d="M69.4 115.4 L74.1 115.7 M79.8 115.9 L85.2 116.2 M90.8 116.4 L96.2 116.7 M101.9 116.9 L107.3 117.2 M113.0 117.6 L118.4 117.9 M124.1 118.2 L129.4 118.6 M135.1 118.9 L140.5 119.4 M146.2 119.9 L151.6 120.4 M157.3 121.0 L162.6 121.5 M168.3 122.1 L173.7 122.6 M179.4 123.1 L184.8 123.6 M190.5 124.0 L195.8 124.8 M201.6 125.7 L206.9 126.5 M212.7 127.2 L217.9 128.5 M223.8 129.9 L229.0 131.1 M234.8 132.5 L240.0 133.8 M245.8 135.3 L251.1 136.6 M256.9 138.1 L262.1 139.4 M267.9 140.9 L273.2 142.3 M279.0 143.7 L284.2 145.1 M290.0 146.7 L295.3 148.1 M301.1 149.6 L306.3 151.0 M311.9 152.5 L317.1 153.9 M322.6 155.4 L327.9 156.8 M333.4 158.2 L338.6 159.6 M344.2 161.1 L349.4 162.5 M355.0 164.0 L360.2 165.3 M365.7 166.8 L370.9 168.2 M376.5 169.8 L381.7 171.3 M387.3 172.9 L392.5 174.4 M398.1 176.0 L403.2 177.6 M408.9 180.1 L413.9 182.1 M419.7 184.4 L424.7 186.5 M430.5 188.8 L435.5 190.9 M441.2 193.1 L446.3 195.1 M452.0 197.4 L457.0 199.3 M462.8 201.7 L467.8 203.8 M473.4 206.4 L478.3 208.6 M483.9 211.2 L488.8 213.5 M494.4 216.1 L499.3 218.4 M504.9 221.1 L509.8 223.4 M515.5 226.4 L520.3 229.0 M525.4 231.9 L530.0 234.7 M535.2 237.8 L539.9 240.5 M545.0 243.6 L549.7 246.2 M554.8 249.1 L559.5 251.7 M564.6 254.6 L569.4 257.3 M574.4 260.1 L579.2 262.8 M584.9 266.1 L589.6 268.9 M595.4 272.2 L600.0 274.8 M605.7 277.8 L610.6 280.2 M616.2 283.1 L621.0 285.5 M626.6 288.4 L631.5 290.9 M637.1 293.8 L641.9 296.2 M647.5 299.0 L652.4 301.4 M658.0 304.2 L662.8 306.6 M668.4 309.4 L673.3 311.7 M678.9 314.5 L683.7 316.8 M689.3 319.5 L694.2 321.9 M699.7 324.6 L704.7 326.6" stroke="#000" stroke-width="2.8" stroke-linecap="butt"/>
<path d="M70.4 103.8 L81.4 105.7 L92.5 107.8 L103.5 109.9 L114.5 112.6 L125.6 116.8 L136.6 116.8 L147.6 115.6 L158.7 115.2 L169.7 120.0 L180.7 123.8 L191.8 126.9 L202.8 127.4 L213.8 127.1 L224.9 130.5 L235.9 126.7 L247.0 126.7 L258.0 128.4 L269.0 130.1 L280.1 130.5 L291.1 131.6 L302.1 135.2 L313.2 141.1 L324.2 140.0 L335.2 139.6 L346.3 141.1 L357.3 142.7 L368.3 145.7 L379.4 147.8 L390.4 150.1 L401.4 151.6 L412.5 151.6 L423.5 156.8 L434.6 163.2 L445.6 169.5 L456.6 175.2 L467.7 182.9 L478.7 186.9 L489.7 191.5 L500.8 197.5 L511.8 202.7 L522.8 206.1 L533.9 204.7 L544.9 210.7 L555.9 218.0 L567.0 224.3 L578.0 227.9 L589.0 237.7 L600.1 243.7 L611.1 250.0 L622.1 257.4 L633.2 268.4 L644.2 272.9 L655.2 277.4 L666.3 280.5 L677.3 282.6 L688.4 290.0 L699.4 299.5 L710.4 305.2" stroke="#ffff00" stroke-width="3"/>
<path d="M70.4 107.4 L81.4 108.8 L92.5 110.1 L103.5 111.8 L114.5 113.3 L125.6 115.8 L136.6 119.6 L147.6 123.2 L158.7 126.3 L169.7 127.4 L180.7 127.8 L191.8 128.4 L202.8 132.0 L213.8 136.6 L224.9 138.9 L235.9 141.7 L247.0 141.5 L258.0 144.2 L269.0 146.9 L280.1 148.4 L291.1 149.1 L302.1 150.5 L313.2 152.6 L324.2 155.4 L335.2 157.9 L346.3 160.0 L357.3 162.5 L368.3 165.3 L379.4 157.9 L390.4 158.9 L401.4 162.5 L412.5 162.1 L423.5 166.7 L434.6 168.4 L445.6 172.6 L456.6 177.3 L467.7 177.3 L478.7 181.1 L489.7 185.3 L500.8 191.6 L511.8 193.7 L522.8 194.5 L533.9 202.0 L544.9 204.7 L555.9 211.1 L567.0 219.5 L578.0 222.6 L589.0 227.9 L600.1 231.8 L611.1 241.3 L622.1 248.4 L633.2 246.8 L644.2 249.5 L655.2 253.2 L666.3 257.4 L677.3 262.0 L688.4 266.4 L699.4 267.5 L710.4 269.6" stroke="#a020f0" stroke-width="3"/>
<path d="M70.4 141.1 L81.4 141.1 L92.5 140.0 L103.5 138.3 L114.5 137.5 L125.6 137.9 L136.6 138.9 L147.6 138.3 L158.7 139.6 L169.7 142.1 L180.7 143.2 L191.8 142.7 L202.8 142.7 L213.8 143.2 L224.9 143.2 L235.9 146.9 L247.0 151.2 L258.0 155.8 L269.0 163.2 L280.1 164.2 L291.1 162.7 L302.1 164.2 L313.2 165.9 L324.2 166.9 L335.2 168.8 L346.3 170.9 L357.3 175.8 L368.3 184.2 L379.4 182.7 L390.4 186.3 L401.4 192.6 L412.5 194.7 L423.5 202.0 L434.6 209.1 L445.6 213.5 L456.6 218.9 L467.7 224.3 L478.7 228.3 L489.7 236.0 L500.8 245.0 L511.8 254.5 L522.8 262.4 L533.9 265.9 L544.9 271.5 L555.9 276.2 L567.0 279.4 L578.0 281.2 L589.0 286.7 L600.1 286.8 L611.1 295.3 L622.1 299.5 L633.2 303.7 L644.2 302.4 L655.2 312.2 L666.3 319.7 L677.3 325.7 L688.4 333.4 L699.4 345.3 L710.4 359.4" stroke="#00ff00" stroke-width="3"/>
<path d="M70.4 225.8 L81.4 223.3 L92.5 225.2 L103.5 222.0 L114.5 220.7 L125.6 220.7 L136.6 223.3 L147.6 225.8 L158.7 232.5 L169.7 236.3 L180.7 241.6 L191.8 246.8 L202.8 250.4 L213.8 255.6 L224.9 260.0 L235.9 269.5 L247.0 278.9 L258.0 283.6 L269.0 287.6 L280.1 287.4 L291.1 286.3 L302.1 287.6 L313.2 286.3 L324.2 286.3 L335.2 285.7 L346.3 287.4 L357.3 292.6 L368.3 298.3 L379.4 300.2 L390.4 297.4 L401.4 296.4 L412.5 303.9 L423.5 314.3 L434.6 320.0 L445.6 324.6 L456.6 324.6 L467.7 333.4 L478.7 336.4 L489.7 335.6 L500.8 342.7 L511.8 352.8 L522.8 358.7 L533.9 363.7 L544.9 367.4 L555.9 368.7 L567.0 370.2 L578.0 375.8 L589.0 381.3 L600.1 384.7 L611.1 391.8 L622.1 397.3 L633.2 409.0 L644.2 412.4 L655.2 411.6 L666.3 414.7 L677.3 409.9 L688.4 407.8 L699.4 412.6 L710.4 411.6" stroke="#0000ff" stroke-width="3"/>
<path d="M70.4 174.8 L81.4 171.7 L92.5 170.4 L103.5 171.1 L114.5 173.2 L125.6 175.3 L136.6 174.2 L147.6 175.3 L158.7 179.5 L169.7 184.7 L180.7 190.0 L191.8 193.6 L202.8 193.8 L213.8 197.9 L224.9 202.6 L235.9 208.5 L247.0 209.6 L258.0 213.2 L269.0 220.5 L280.1 226.4 L291.1 225.8 L302.1 224.3 L313.2 226.4 L324.2 228.5 L335.2 230.0 L346.3 232.1 L357.3 233.8 L368.3 237.4 L379.4 238.9 L390.4 241.1 L401.4 245.3 L412.5 251.6 L423.5 254.3 L434.6 255.8 L445.6 265.3 L456.6 272.4 L467.7 275.3 L478.7 276.6 L489.7 279.5 L500.8 285.0 L511.8 292.2 L522.8 297.1 L533.9 306.8 L544.9 315.3 L555.9 320.5 L567.0 326.8 L578.0 332.7 L589.0 334.8 L600.1 340.1 L611.1 349.5 L622.1 360.5 L633.2 364.2 L644.2 366.6 L655.2 368.4 L666.3 374.7 L677.3 381.4 L688.4 387.9 L699.4 392.4 L710.4 391.6" stroke="#ffa500" stroke-width="3"/>
<path d="M70.4 173.6 L81.4 172.7 L92.5 176.9 L103.5 182.6 L114.5 183.7 L125.6 183.7 L136.6 183.3 L147.6 182.6 L158.7 182.2 L169.7 182.2 L180.7 184.7 L191.8 187.9 L202.8 188.5 L213.8 186.6 L224.9 186.2 L235.9 187.3 L247.0 190.4 L258.0 188.9 L269.0 188.9 L280.1 185.8 L291.1 193.6 L302.1 194.2 L313.2 198.0 L324.2 200.5 L335.2 203.3 L346.3 208.5 L357.3 209.4 L368.3 213.4 L379.4 216.4 L390.4 218.9 L401.4 222.7 L412.5 229.5 L423.5 236.2 L434.6 243.6 L445.6 246.7 L456.6 250.5 L467.7 260.0 L478.7 272.1 L489.7 278.2 L500.8 286.2 L511.8 290.3 L522.8 296.6 L533.9 305.8 L544.9 315.3 L555.9 324.3 L567.0 336.0 L578.0 346.0 L589.0 355.1 L600.1 365.3 L611.1 374.7 L622.1 381.6 L633.2 395.0 L644.2 402.4 L655.2 409.1 L666.3 414.3 L677.3 419.6 L688.4 417.9 L699.4 420.0 L710.4 421.7" stroke="#000000" stroke-width="3"/>
<path d="M70.4 196.3 L81.4 197.4 L92.5 197.4 L103.5 199.1 L114.5 200.5 L125.6 198.0 L136.6 199.5 L147.6 202.2 L158.7 205.2 L169.7 207.3 L180.7 205.2 L191.8 205.8 L202.8 209.4 L213.8 211.9 L224.9 212.5 L235.9 212.5 L247.0 213.2 L258.0 219.5 L269.0 219.9 L280.1 219.9 L291.1 220.5 L302.1 225.4 L313.2 228.5 L324.2 231.5 L335.2 238.0 L346.3 238.4 L357.3 239.1 L368.3 241.9 L379.4 243.8 L390.4 244.2 L401.4 245.3 L412.5 249.5 L423.5 257.9 L434.6 260.6 L445.6 260.0 L456.6 262.1 L467.7 269.2 L478.7 278.7 L489.7 285.0 L500.8 293.4 L511.8 300.8 L522.8 306.4 L533.9 311.1 L544.9 316.7 L555.9 322.2 L567.0 327.9 L578.0 334.2 L589.0 340.0 L600.1 344.8 L611.1 349.8 L622.1 354.8 L633.2 360.2 L644.2 365.7" stroke="#ff0000" stroke-width="6"/>
</g>
<path d="M644.2 59.5 V436.5" stroke="#4a4a4a" stroke-width="1"/>
<rect x="59.5" y="59.5" width="662.0" height="377.0" fill="none" stroke="#4a4a4a" stroke-width="1"/>
<path d="M103.5 436.5 v5.3 M213.8 436.5 v5.3 M324.2 436.5 v5.3 M434.6 436.5 v5.3 M544.9 436.5 v5.3 M655.2 436.5 v5.3 M59.5 425.4 h-6.3 M59.5 357.1 h-6.3 M59.5 288.9 h-6.3 M59.5 220.6 h-6.3 M59.5 152.4 h-6.3 M59.5 84.1 h-6.3" stroke="#4a4a4a" stroke-width="1"/>
<text x="103.2" y="455.2" font-size="9.2" stroke="#000" stroke-width="0.25" text-anchor="middle">310</text>
<text x="213.5" y="455.2" font-size="9.2" stroke="#000" stroke-width="0.25" text-anchor="middle">320</text>
<text x="323.9" y="455.2" font-size="9.2" stroke="#000" stroke-width="0.25" text-anchor="middle">330</text>
<text x="434.2" y="455.2" font-size="9.2" stroke="#000" stroke-width="0.25" text-anchor="middle">340</text>
<text x="544.6" y="455.2" font-size="9.2" stroke="#000" stroke-width="0.25" text-anchor="middle">350</text>
<text x="655.0" y="455.2" font-size="9.2" stroke="#000" stroke-width="0.25" text-anchor="middle">360</text>
<text transform="translate(47 425.6) rotate(-90)" font-size="9.2" stroke="#000" stroke-width="0.25" text-anchor="middle">18</text>
<text transform="translate(47 357.3) rotate(-90)" font-size="9.2" stroke="#000" stroke-width="0.25" text-anchor="middle">20</text>
<text transform="translate(47 289.1) rotate(-90)" font-size="9.2" stroke="#000" stroke-width="0.25" text-anchor="middle">22</text>
<text transform="translate(47 220.8) rotate(-90)" font-size="9.2" stroke="#000" stroke-width="0.25" text-anchor="middle">24</text>
<text transform="translate(47 152.6) rotate(-90)" font-size="9.2" stroke="#000" stroke-width="0.25" text-anchor="middle">26</text>
<text transform="translate(47 84.3) rotate(-90)" font-size="9.2" stroke="#000" stroke-width="0.25" text-anchor="middle">28</text>
<text transform="translate(26.3 248.5) rotate(-90)" font-size="8.69" stroke="#000" stroke-width="0.15" text-anchor="middle">Ice Extent in millions of sq. km.</text>
<text x="390" y="41.9" font-size="10.7" font-weight="bold" text-anchor="middle">Global Sea Ice Extent Day 359 1978 to 2019</text>
<text x="390" y="477" font-size="8.75" stroke="#000" stroke-width="0.15" text-anchor="middle">Day of Year</text>
<text x="390.75" y="487.2" font-size="8.58" stroke="#000" stroke-width="0.15" text-anchor="middle" style="white-space:pre">Today's Ice Extent: 19.756  - Record for the day: 23.369 which occurred on 1988 12 24  - Mean: 21.75</text>
<text x="15.2" y="477.8" font-size="17.6">http://sunshinehours.wordpress.com</text>
<text x="650.3" y="368.6" font-size="8.5" fill="#ff0000">19.756</text>
<rect x="558.5" y="59.5" width="163.0" height="115.80000000000001" fill="none" stroke="#4a4a4a" stroke-width="1"/>
<path d="M566.8 70.3 H581.8" stroke="#ff0000" stroke-width="3" stroke-linecap="round" fill="none"/>
<text x="590.2" y="73.4" font-size="8.58" stroke="#000" stroke-width="0.18">2019</text>
<path d="M566.5 80.9 h2.5 M577 80.9 h3.5" stroke="#000" stroke-width="3" stroke-linecap="round" fill="none"/>
<text x="590.2" y="84.0" font-size="8.58" stroke="#000" stroke-width="0.18">Mean 1981-2010</text>
<path d="M566.8 91.5 H581.8" stroke="#d3d3d3" stroke-width="10" stroke-linecap="round" fill="none"/>
<text x="590.2" y="94.6" font-size="8.58" stroke="#000" stroke-width="0.18">1 Standard Deviation From Mean</text>
<path d="M566.8 102.1 H581.8" stroke="#000" stroke-width="3" stroke-linecap="round" fill="none"/>
<text x="590.2" y="105.2" font-size="8.58" stroke="#000" stroke-width="0.18">2018</text>
<path d="M566.8 112.7 H581.8" stroke="#ffa500" stroke-width="3" stroke-linecap="round" fill="none"/>
<text x="590.2" y="115.8" font-size="8.58" stroke="#000" stroke-width="0.18">2017</text>
<path d="M566.8 123.2 H581.8" stroke="#0000ff" stroke-width="3" stroke-linecap="round" fill="none"/>
<text x="590.2" y="126.3" font-size="8.58" stroke="#000" stroke-width="0.18">2016</text>
<path d="M566.8 133.8 H581.8" stroke="#00ff00" stroke-width="3" stroke-linecap="round" fill="none"/>
<text x="590.2" y="136.9" font-size="8.58" stroke="#000" stroke-width="0.18">2015</text>
<path d="M566.8 144.4 H581.8" stroke="#a020f0" stroke-width="3" stroke-linecap="round" fill="none"/>
<text x="590.2" y="147.5" font-size="8.58" stroke="#000" stroke-width="0.18">2014</text>
<path d="M566.8 155.0 H581.8" stroke="#ffff00" stroke-width="3" stroke-linecap="round" fill="none"/>
<text x="590.2" y="158.1" font-size="8.58" stroke="#000" stroke-width="0.18">2013</text>
<path d="M566.8 165.6 H581.8" stroke="#000" stroke-width="0.75" stroke-linecap="round" fill="none"/>
<text x="590.2" y="168.7" font-size="8.58" stroke="#000" stroke-width="0.18">Every Other Year</text>
</svg></body></html>
